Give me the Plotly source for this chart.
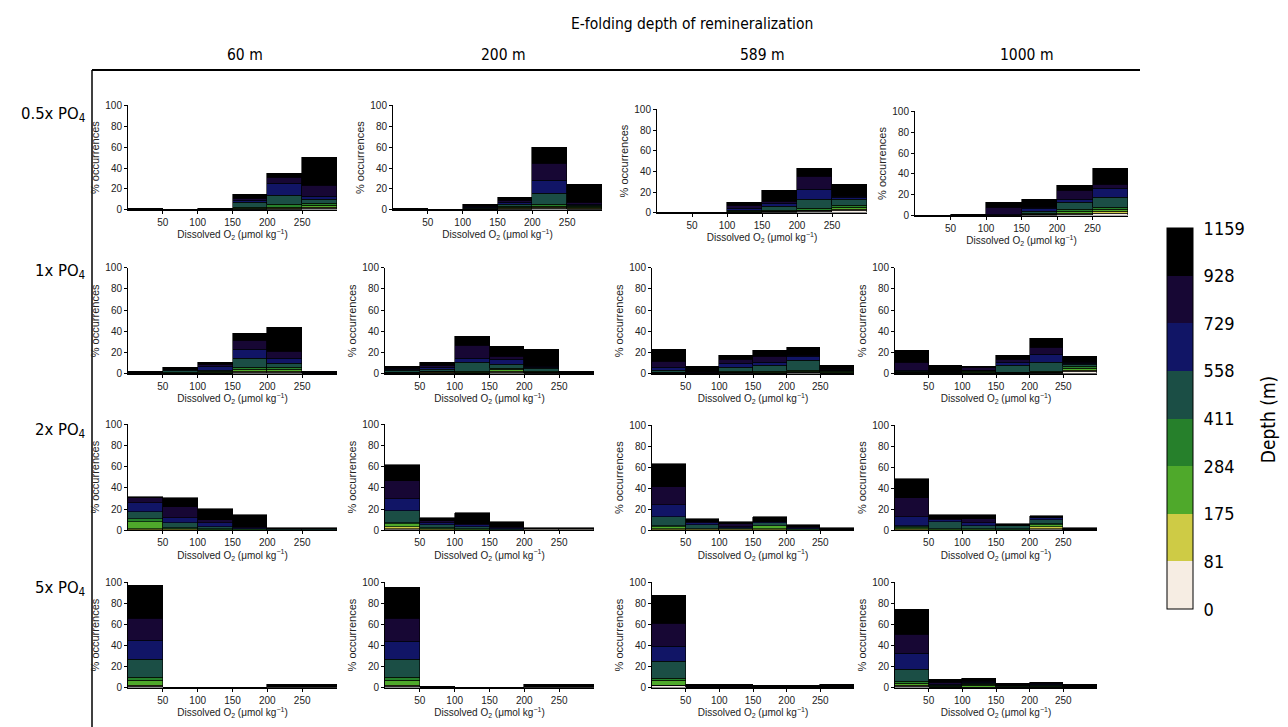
import plotly.graph_objects as go

# ---------------- data ----------------
DEPTH_BOUNDS = ['0', '81', '175', '284', '411', '558', '729', '928', '1159']
DEPTH_COLORS = ['#F6EDE3', '#CECB45', '#4FA92B', '#26802B', '#1B4E45', '#111566', '#170734', '#000000']
O2_BIN_CENTERS = [25, 75, 125, 175, 225, 275]
O2_TICKS = [50, 100, 150, 200, 250]
Y_TICKS = [0, 20, 40, 60, 80, 100]
REMIN_LABELS = ['60 m', '200 m', '589 m', '1000 m']
PO4_LABELS = ['0.5x PO<sub>4</sub>', '1x PO<sub>4</sub>', '2x PO<sub>4</sub>', '5x PO<sub>4</sub>']

# each panel: 6 O2 bins, each bin = % occurrences per depth layer (shallow -> deep)
P05_60 = [[0, 0, 0, 0, 0, 0, 0, 1.0], [0, 0, 0, 0, 0, 0, 0, 0.3], [0, 0, 0, 0, 0, 0, 0.2, 0.8],
          [0.3, 0.4, 0.8, 1.0, 4.0, 2.5, 1.5, 3.7], [0.6, 0.8, 1.0, 2.2, 9.5, 11.0, 6.3, 3.2],
          [1.5, 0.9, 1.3, 1.9, 4.4, 2.5, 11.0, 26.8]]
P05_200 = [[0, 0, 0, 0, 0, 0, 0, 1.0], [0, 0, 0, 0, 0, 0, 0, 0], [0.2, 0, 0.3, 0, 0.7, 1.0, 1.0, 1.5],
           [0.5, 0.6, 1.0, 1.0, 2.2, 1.6, 1.9, 3.2], [1.2, 1.0, 1.0, 1.6, 11.0, 12.0, 16.4, 15.8],
           [0.6, 0.6, 1.0, 0.8, 1.5, 1.0, 1.5, 17.5]]
P05_589 = [[0, 0, 0, 0, 0, 0, 0, 0.5], [0, 0, 0, 0, 0, 0, 0, 0.5], [0.3, 0, 0.3, 0.5, 1.3, 2.2, 2.2, 3.2],
           [0.4, 0.4, 0.7, 1.0, 3.2, 2.9, 2.5, 10.2], [1.3, 0.6, 0.6, 1.3, 8.9, 9.5, 12.7, 7.9],
           [1.9, 1.3, 2.2, 1.6, 6.3, 1.9, 0.6, 11.1]]
P05_1000 = [[0, 0, 0, 0, 0, 0, 0, 0.3], [0, 0, 0, 0, 0, 0, 0, 1.0], [0.3, 0, 0, 0, 0.3, 0.3, 6.9, 4.7],
            [0.5, 0.5, 0.6, 0.9, 1.3, 3.1, 0.9, 7.8], [1.3, 1.3, 1.3, 2.5, 6.3, 2.5, 9.1, 4.7],
            [2.5, 1.6, 2.2, 1.6, 9.4, 8.8, 3.8, 15.6]]

P1_60 = [[0.2, 0.2, 0.6, 0.2, 0.1, 0.1, 0.2, 0.9], [0.1, 0.1, 0.2, 0.3, 2.5, 0.4, 0.4, 1.5],
         [0.3, 0.3, 0.5, 0.9, 1.2, 4.0, 1.5, 1.5], [0.9, 0.9, 2.2, 1.5, 9.2, 8.3, 8.6, 6.2],
         [1.2, 0.9, 1.5, 1.8, 4.6, 4.6, 6.2, 23.0], [0.4, 0, 0, 0, 0.2, 0.2, 0.2, 1.5]]
P1_200 = [[0.2, 0.2, 0.3, 0.4, 1.5, 1.2, 1.2, 1.5], [0.5, 0.5, 0.9, 0.6, 1.5, 2.2, 1.5, 2.5],
          [0.3, 0.3, 0.5, 0.8, 8.3, 4.6, 11.4, 8.6], [1.0, 0.9, 1.8, 0.9, 4.0, 4.6, 3.1, 9.2],
          [0.5, 0.5, 0.6, 0.8, 2.2, 1.5, 0.9, 16.0], [0.4, 0.2, 0.3, 0, 0.3, 0, 0, 1.3]]
P1_589 = [[0.2, 0.3, 0.4, 0.5, 1.5, 2.5, 6.2, 11.4], [0.2, 0, 0, 0, 0, 0.3, 1.0, 5.0],
          [0.4, 0.4, 0.8, 0.9, 3.1, 4.0, 3.7, 3.7], [0.3, 0.3, 0.6, 0.9, 5.5, 2.5, 6.2, 5.5],
          [0.7, 0.7, 0.8, 1.0, 9.5, 3.5, 0.8, 8.0], [0.2, 0.3, 0.9, 0.8, 0.8, 0.5, 0.5, 3.7]]
P1_1000 = [[0.2, 0.2, 0.3, 0.4, 0.7, 1.5, 6.8, 11.4], [0.2, 0.1, 0.2, 0.3, 0.4, 0.9, 0.4, 5.2],
           [0.3, 0.3, 0.8, 0.6, 0.6, 0.5, 2.5, 1.2], [0.2, 0.3, 0.4, 0.6, 6.2, 2.5, 3.1, 3.7],
           [0.4, 0.4, 0.6, 1.0, 8.3, 7.1, 7.1, 8.6], [1.8, 1.6, 1.8, 1.2, 2.2, 0.8, 0.8, 5.8]]

P2_60 = [[0.6, 0.9, 6.2, 3.1, 6.8, 7.7, 4.6, 1.8], [0.5, 0.5, 0.6, 0.6, 4.6, 4.6, 10.8, 8.6],
         [0.2, 0.2, 0.2, 0.2, 2.2, 4.0, 2.2, 10.8], [0.2, 0.2, 0.2, 0.2, 0.5, 0.6, 1.2, 11.7],
         [0.6, 0, 0, 0, 0.3, 0.3, 0, 1.0], [0.6, 0, 0, 0, 0.3, 0.3, 0, 1.0]]
P2_200 = [[1.2, 1.8, 2.5, 1.2, 11.7, 10.8, 16.9, 15.4], [0.4, 0.5, 0.6, 0.9, 2.2, 2.2, 1.8, 3.1],
          [0.3, 0.3, 0.4, 0.4, 1.8, 1.5, 1.5, 9.8], [0.2, 0.1, 0.2, 0.1, 0.4, 1.5, 0.6, 4.6],
          [0.7, 0, 0, 0, 0.3, 0, 0, 1.2], [0.7, 0, 0, 0, 0.3, 0, 0, 1.2]]
P2_589 = [[0.7, 0.8, 1.6, 0.9, 8.4, 11.5, 17.1, 22.0], [0.4, 0.4, 0.4, 0.4, 3.1, 2.2, 0.9, 3.1],
          [0.4, 0.4, 0.4, 0.4, 0.9, 0.6, 3.1, 1.6], [0.6, 0.6, 2.5, 0.6, 2.8, 0.3, 0.3, 4.7],
          [0.2, 0.2, 0.2, 0.2, 0.4, 1.2, 0.8, 1.5], [0.3, 0.1, 0.1, 0.1, 0.1, 0, 0, 1.5]]
P2_1000 = [[0.5, 0.6, 0.8, 0.9, 1.2, 9.0, 17.4, 18.6], [0.3, 0.3, 0.4, 0.5, 6.2, 1.6, 1.6, 4.0],
           [0.3, 0.3, 0.5, 0.5, 2.5, 2.8, 4.0, 4.0], [0.2, 0.2, 0.2, 0.3, 2.8, 0, 0, 2.5],
           [1.5, 1.6, 1.9, 1.2, 3.1, 1.9, 0.6, 2.2], [0.5, 0, 0, 0, 0.2, 0, 0, 1.5]]

P5_60 = [[1.5, 0.9, 4.5, 2.5, 17.1, 18.0, 21.7, 30.7], [0, 0, 0, 0, 0, 0, 0, 0], [0, 0, 0, 0, 0, 0, 0, 0],
         [0, 0, 0, 0, 0, 0, 0, 0], [0.7, 0.05, 0.05, 0.1, 0.1, 0.1, 0.2, 1.8],
         [0.7, 0.05, 0.05, 0.1, 0.1, 0.1, 0.2, 1.8]]
P5_200 = [[1.5, 0.9, 4.5, 2.5, 17.1, 17.7, 21.7, 29.8], [0, 0, 0, 0, 0, 0, 0.3, 1.0], [0, 0, 0, 0, 0, 0, 0, 0],
          [0, 0, 0, 0, 0, 0, 0, 0], [0.7, 0.05, 0.05, 0.1, 0.1, 0.1, 0.2, 1.8],
          [0.7, 0.05, 0.05, 0.1, 0.1, 0.1, 0.2, 1.8]]
P5_589 = [[1.7, 0.9, 4.3, 1.9, 16.1, 14.6, 21.1, 27.3], [0.2, 0.1, 0.1, 0.1, 0.1, 0.1, 0.1, 2.3],
          [0.2, 0.1, 0.1, 0.1, 0.1, 0.1, 0.1, 2.3], [0.1, 0, 0, 0.1, 0.1, 1.2, 0, 0.7],
          [0.3, 0, 0, 0, 0.1, 0.1, 0.1, 1.6], [0.5, 0, 0, 0, 0.2, 0.2, 0.2, 1.7]]
P5_1000 = [[1.2, 0.9, 2.2, 1.9, 10.9, 15.5, 17.7, 24.2], [0.2, 0.2, 0.3, 0.3, 1.6, 0.5, 1.6, 3.1],
           [0.1, 0.2, 2.2, 0.5, 1.2, 0.5, 0.9, 3.1], [0.2, 0.2, 0.3, 0.3, 1.5, 0, 0, 1.5],
           [0.2, 0.2, 0.2, 0.2, 1.0, 1.5, 0.5, 1.5], [0.5, 0, 0, 0, 0.3, 0.2, 0.2, 1.6]]

PANELS = [[P05_60, P05_200, P05_589, P05_1000],
          [P1_60, P1_200, P1_589, P1_1000],
          [P2_60, P2_200, P2_589, P2_1000],
          [P5_60, P5_200, P5_589, P5_1000]]

# ---------------- layout geometry (pixels on the final page) ----------------
W, H = 1288, 727
PAGE_OFFSET = 8  # default body margin of the html page
# (x_left, x_right, y_top(100%), y_bottom(0%)) per panel
BOXES = [
    [(128, 337, 101, 207), (393, 602, 101, 207), (657, 867, 105, 210), (915, 1128, 107, 213)],
    [(128, 337, 266, 374), (385, 594, 266, 374), (652, 854, 266, 374), (895, 1097, 266, 374)],
    [(128, 337, 425, 533), (385, 594, 425, 533), (652, 854, 426, 533), (895, 1097, 426, 533)],
    [(128, 337, 586, 693), (385, 594, 586, 693), (652, 854, 586, 693), (895, 1097, 586, 693)],
]


def px(x):
    return (x - PAGE_OFFSET) / W


def py(y):
    return 1 - (y - PAGE_OFFSET) / H


SMALL = 'Liberation Sans, Arial, sans-serif'
BIG = 'Liberation Sans Narrow, DejaVu Sans Condensed, Roboto, sans-serif'
TICK_FONT = dict(family=SMALL, size=10, color='#222')
HEAD_FONT = dict(family=BIG, size=15.5, color='black')
ROW_FONT = dict(family=BIG, size=16.5, color='black')

fig = go.Figure()
layout = {}

for r in range(4):
    for c in range(4):
        k = r * 4 + c + 1
        xa = 'x' if k == 1 else f'x{k}'
        ya = 'y' if k == 1 else f'y{k}'
        panel = PANELS[r][c]
        for j in range(8):
            fig.add_trace(go.Bar(
                x=O2_BIN_CENTERS,
                y=[b[j] for b in panel],
                width=50,
                marker=dict(color=DEPTH_COLORS[j], line=dict(color='black', width=0.6)),
                xaxis=xa, yaxis=ya, showlegend=False,
                name=f'{DEPTH_BOUNDS[j]}–{DEPTH_BOUNDS[j + 1]} m',
            ))
        x0, x1, yt, yb = BOXES[r][c]
        layout['xaxis' if k == 1 else f'xaxis{k}'] = dict(
            domain=[px(x0), px(x1)], anchor=ya, range=[0, 300],
            tickvals=O2_TICKS, ticks='outside', ticklen=3, tickwidth=1, tickcolor='black',
            showline=True, linecolor='black', linewidth=1, showgrid=False, zeroline=False,
            tickfont=TICK_FONT,
            title=dict(text='Dissolved O<sub>2</sub> (μmol kg<sup>−1</sup>)',
                       font=dict(family=SMALL, size=10, color='#222'), standoff=2),
        )
        layout['yaxis' if k == 1 else f'yaxis{k}'] = dict(
            domain=[py(yb), py(yt)], anchor=xa, range=[0, 100],
            tickvals=Y_TICKS, ticks='outside', ticklen=3, tickwidth=1, tickcolor='black',
            showline=True, linecolor='black', linewidth=1, showgrid=False, zeroline=False,
            tickfont=TICK_FONT,
            title=dict(text='% occurrences', font=dict(family=SMALL, size=11, color='#222'), standoff=3),
        )

# colour bar for depth layers
n = len(DEPTH_COLORS)
cscale = []
for j, col in enumerate(DEPTH_COLORS):
    cscale.append([j / n, col])
    cscale.append([(j + 1) / n, col])

fig.add_trace(go.Scatter(
    x=[-1000], y=[-1000], mode='markers', xaxis='x', yaxis='y', showlegend=False, hoverinfo='skip',
    marker=dict(color=[0], cmin=0, cmax=n, colorscale=cscale, showscale=True, size=1,
                colorbar=dict(
                    x=px(1167), xanchor='left', xpad=0, ypad=0,
                    y=py(419.5), yanchor='middle', len=387 / H, lenmode='fraction',
                    thickness=26, thicknessmode='pixels',
                    outlinecolor='black', outlinewidth=1,
                    tickvals=list(range(n + 1)), ticktext=DEPTH_BOUNDS,
                    ticks='outside', ticklen=7, tickcolor='rgba(0,0,0,0)',
                    tickfont=dict(family=BIG, size=18, color='black'),
                )),
))

annotations = [dict(text='E-folding depth of remineralization', x=px(692), y=py(18),
                    xref='paper', yref='paper', showarrow=False, font=HEAD_FONT,
                    xanchor='center', yanchor='middle')]
HEAD_X = [245, 503, 763, 1027]
for lab, hx in zip(REMIN_LABELS, HEAD_X):
    annotations.append(dict(text=lab, x=px(hx), y=py(50), xref='paper', yref='paper', showarrow=False,
                            font=HEAD_FONT, xanchor='center', yanchor='middle'))
ROW_Y = [110, 270, 431, 592]
for lab, ry in zip(PO4_LABELS, ROW_Y):
    annotations.append(dict(text=lab, x=px(88), y=py(ry), xref='paper', yref='paper', showarrow=False,
                            font=ROW_FONT, xanchor='right', yanchor='middle'))
annotations.append(dict(text='Depth (m)', x=px(1268), y=py(420), xref='paper', yref='paper',
                        showarrow=False, textangle=-90, font=dict(family=BIG, size=19, color='black'),
                        xanchor='center', yanchor='middle'))

shapes = [
    dict(type='line', xref='paper', yref='paper', x0=px(92), x1=px(1140), y0=py(65), y1=py(65),
         line=dict(color='black', width=2)),
    dict(type='line', xref='paper', yref='paper', x0=px(92), x1=px(92), y0=py(65), y1=py(740),
         line=dict(color='black', width=1.5)),
]

fig.update_layout(
    width=W, height=H, margin=dict(l=0, r=0, t=0, b=0),
    paper_bgcolor='white', plot_bgcolor='white',
    barmode='stack', bargap=0,
    annotations=annotations, shapes=shapes,
    **layout,
)

fig.write_html('out.html')
